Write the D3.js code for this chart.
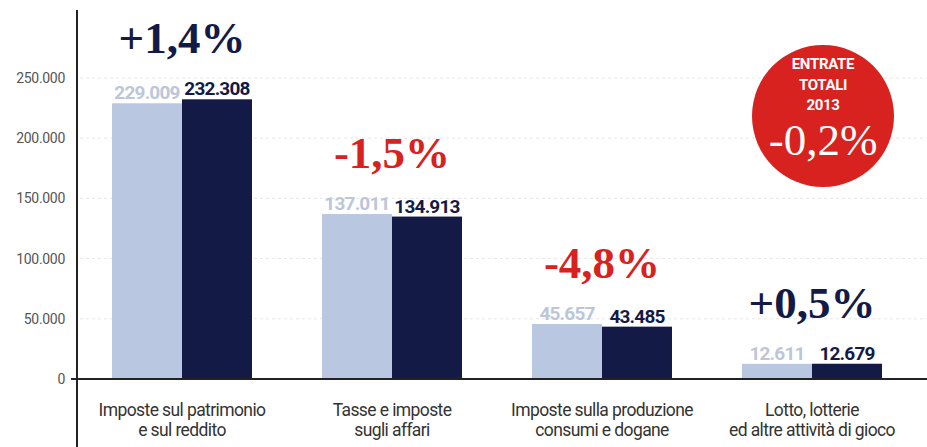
<!DOCTYPE html>
<html>
<head>
<meta charset="utf-8">
<title>Entrate tributarie 2012-2013</title>
<script src="https://cdn.jsdelivr.net/npm/d3@7"></script>
<style>
  body { margin: 0; background: #fff; }
  svg { display: block; }
  .tick-label { font-family: Roboto, sans-serif; font-size: 14px; fill: #555; letter-spacing: -0.3px; }
  .cat { font-family: Roboto, sans-serif; font-size: 17.5px; fill: #333; letter-spacing: -0.6px; }
  .val { font-family: Roboto, sans-serif; font-weight: bold; font-size: 19px; letter-spacing: -0.8px; }
  .pct { font-family: "Liberation Serif", "DejaVu Serif", serif; font-weight: bold; font-size: 45px; }
</style>
</head>
<body>
<svg id="chart" width="927" height="447"></svg>
<script>
// dati (milioni di euro)
var categories = ["Imposte sul patrimonio|e sul reddito", "Tasse e imposte|sugli affari", "Imposte sulla produzione|consumi e dogane", "Lotto, lotterie|ed altre attività di gioco"];
var series = ["2012", "2013"];
var values2012 = [229009, 137011, 45657, 12611];
var values2013 = [232308, 134913, 43485, 12679];
var changes = ["+1,4%", "-1,5%", "-4,8%", "+0,5%"];
var yTicks = [0, 50000, 100000, 150000, 200000, 250000];
var totalLabel = ["ENTRATE", "TOTALI", "2013"];
var totalChange = "-0,2%";

var light = "#b9c7e0", dark = "#131a45", red = "#d7221f";
var svg = d3.select("#chart");

var y = d3.scaleLinear().domain([0, 250000]).range([379, 78]);
var x = d3.scaleBand().domain(categories).range([77, 917]).paddingInner(1/3).paddingOuter(1/6);
var xs = d3.scaleBand().domain(series).range([0, x.bandwidth()]);

var fmt = function(v) { return d3.format(",")(v).replace(/,/g, "."); };

// griglia tratteggiata
svg.append("g").selectAll("line").data(yTicks.slice(1)).join("line")
  .attr("x1", 80).attr("x2", 927)
  .attr("y1", d => y(d)).attr("y2", d => y(d))
  .style("stroke", "#e6e6e6").style("stroke-width", 1).style("stroke-dasharray", "3,3");

// etichette asse y
svg.append("g").selectAll("text").data(yTicks).join("text")
  .attr("class", "tick-label")
  .attr("x", 65).attr("y", d => y(d) + 5)
  .attr("text-anchor", "end")
  .text(d => d === 0 ? "0" : fmt(d));

// barre
var groups = svg.append("g").selectAll("g").data(categories).join("g")
  .attr("transform", d => "translate(" + x(d) + ",0)");

groups.each(function(c, i) {
  var g = d3.select(this);
  var vals = [values2012[i], values2013[i]];
  series.forEach(function(s, k) {
    g.append("rect")
      .attr("x", xs(s)).attr("width", xs.bandwidth())
      .attr("y", y(vals[k])).attr("height", y(0) - y(vals[k]))
      .style("fill", k === 0 ? light : dark);
    g.append("text").attr("class", "val")
      .attr("x", xs(s) + xs.bandwidth() / 2)
      .attr("y", y(vals[k]) - 4)
      .attr("text-anchor", "middle")
      .style("fill", k === 0 ? "#bcc6d8" : dark)
      .text(fmt(vals[k]));
  });
  var top = y(Math.max(vals[0], vals[1]));
  g.append("text").attr("class", "pct")
    .attr("x", x.bandwidth() / 2).attr("y", top - 46)
    .attr("text-anchor", "middle")
    .style("fill", changes[i][0] === "-" ? red : dark)
    .text(changes[i]);
  c.split("|").forEach(function(l, j) {
    g.append("text").attr("class", "cat")
      .attr("x", x.bandwidth() / 2).attr("y", 416 + j * 20)
      .attr("text-anchor", "middle")
      .text(l);
  });
});

// assi
svg.append("line").attr("x1", 77).attr("x2", 77).attr("y1", 10).attr("y2", 447)
  .style("stroke", "#222").style("stroke-width", 2);
svg.append("line").attr("x1", 71).attr("x2", 927).attr("y1", y(0)).attr("y2", y(0))
  .style("stroke", "#222").style("stroke-width", 2);

// bollino rosso
var badge = svg.append("g").attr("transform", "translate(823,116)");
badge.append("circle").attr("r", 71).style("fill", red);
totalLabel.forEach(function(t, i) {
  badge.append("text")
    .attr("y", -47 + i * 20.5)
    .attr("text-anchor", "middle")
    .style("font-family", "Roboto, sans-serif")
    .style("font-weight", "bold").style("font-size", "15px").style("fill", "#fff")
    .style("letter-spacing", "-0.3px")
    .text(t);
});
badge.append("text").attr("y", 39).attr("text-anchor", "middle")
  .style("font-family", "'Liberation Serif', 'DejaVu Serif', serif")
  .style("font-size", "45px").style("fill", "#fff")
  .text(totalChange);
</script>
</body>
</html>
